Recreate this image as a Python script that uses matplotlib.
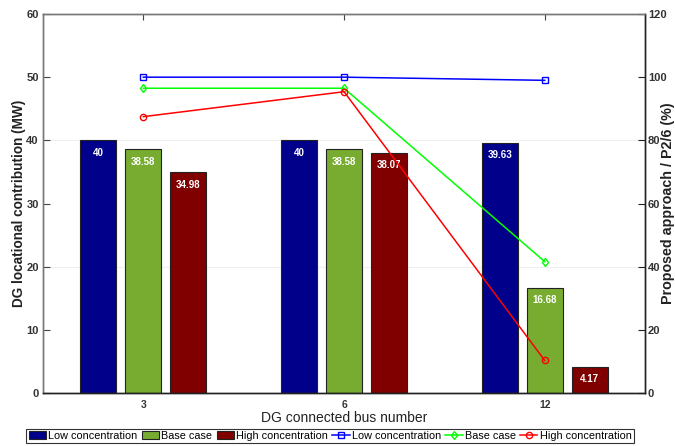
import matplotlib
matplotlib.use("Agg")
import matplotlib.pyplot as plt
import numpy as np

plt.rcParams['font.family'] = ['Liberation Sans Narrow', 'Liberation Sans', 'DejaVu Sans']

categories = ['3', '6', '12']
bar_low = [40, 40, 39.63]
bar_base = [38.58, 38.58, 16.68]
bar_high = [34.98, 38.07, 4.17]
line_low = [100, 100, 99.0]
line_base = [96.5, 96.5, 41.6]
line_high = [87.5, 95.4, 10.3]

fig = plt.figure(figsize=(6.75, 4.46), dpi=100)
ax = fig.add_axes([0.0637, 0.1188, 0.892, 0.8498])
ax2 = ax.twinx()

x = np.arange(1, len(categories) + 1)
w = 0.18
off = 0.224
cols = ['#00008B', '#77AC30', '#800000']
bars = []
for i, (vals, c, lab) in enumerate(zip([bar_low, bar_base, bar_high], cols,
                                       ['Low concentration', 'Base case', 'High concentration'])):
    b = ax.bar(x + (i - 1) * off, vals, w, color=c, edgecolor='#222222', linewidth=0.8, label=lab, zorder=2)
    bars.append(b)
    for xi, v in zip(x + (i - 1) * off, vals):
        ax.annotate(f'{v:g}', (xi, v), xytext=(0, -9), textcoords='offset points',
                    ha='center', va='center', color='white', fontsize=7, fontweight='bold', zorder=3)

for gy in [20, 40]:
    ax.axhline(gy, color='#f0f0f0', lw=0.8, zorder=0)

ax.set_xlim(0.5, 3.5)
ax.set_ylim(0, 60)
ax.set_yticks(range(0, 61, 10))
ax.set_xticks(x)
ax.set_xticklabels(categories)
ax.tick_params(axis='x', direction='in', top=True, length=4, labelsize=7.5, pad=5, color='#444444')
ax.tick_params(axis='y', direction='in', length=5, labelsize=8, pad=3, color='#444444')
for lbl in ax.get_xticklabels() + ax.get_yticklabels():
    lbl.set_fontweight('bold')
    lbl.set_color('#333333')
ax.set_ylabel('DG locational contribution (MW)', fontsize=9.8, fontweight='bold', color='#222222',
              family=['Liberation Sans', 'DejaVu Sans'])
ax.yaxis.set_label_coords(-0.029, 0.5)
ax.set_xlabel('DG connected bus number', fontsize=10, color='#222222', labelpad=1)

lines = []
for vals, c, m, lab in zip([line_low, line_base, line_high], ['#0000FF', '#00FF00', '#FF0000'],
                           ['s', 'd', 'o'], ['Low concentration', 'Base case', 'High concentration']):
    l, = ax2.plot(x, vals, color=c, marker=m, markerfacecolor='none', markeredgecolor=c,
                  markersize=4.5, lw=1.1, label=lab)
    lines.append(l)
ax2.set_ylim(0, 120)
ax2.set_yticks(range(0, 121, 20))
ax2.tick_params(axis='y', direction='in', length=5, labelsize=8, pad=2, color='#222222')
for lbl in ax2.get_yticklabels():
    lbl.set_fontweight('bold')
    lbl.set_color('#333333')
ax2.set_ylabel('Proposed approach / P2/6 (%)', fontsize=10.3, fontweight='bold', color='#222222',
               family=['Liberation Sans', 'DejaVu Sans'])
ax2.yaxis.set_label_coords(1.027, 0.5)

for a in (ax, ax2):
    a.spines['left'].set_color('#777777')
    a.spines['top'].set_color('#777777')
    a.spines['bottom'].set_color('#222222')
    a.spines['right'].set_color('#222222')
    for s in a.spines.values():
        s.set_linewidth(1.0)

handles = bars + lines
labels = ['Low concentration', 'Base case', 'High concentration'] * 2
leg = fig.legend(handles, labels, loc='upper center', bbox_to_anchor=(0.489, 0.039), ncol=6,
                 fontsize=7.8, frameon=True, fancybox=False, edgecolor='black',
                 handlelength=1.6, handletextpad=0.2, columnspacing=0.4, borderpad=0.2,
                 borderaxespad=0)
leg.get_frame().set_linewidth(0.8)

fig.savefig('out.png', dpi=100)
